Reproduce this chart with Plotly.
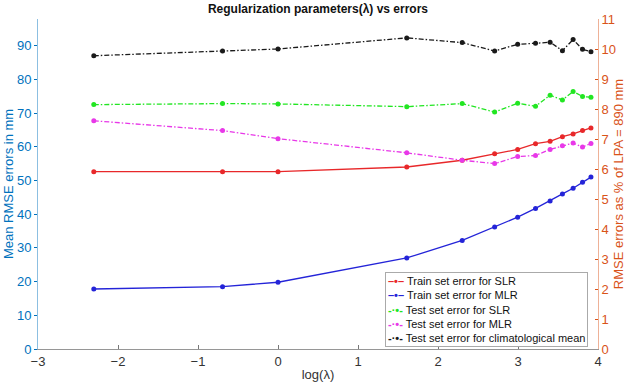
import numpy as np
import plotly.graph_objects as go

lambdas = [0.1, 0.5, 1, 5, 10, 15, 20, 25, 30, 35, 40, 45, 50]
train_slr = [52.6, 52.6, 52.6, 54.0, 56.0, 57.9, 59.2, 60.9, 61.6, 63.0, 63.8, 64.8, 65.6]
train_mlr = [17.8, 18.5, 19.8, 27.0, 32.2, 36.2, 39.1, 41.7, 43.9, 46.0, 47.7, 49.5, 51.0]
test_slr = [72.5, 72.8, 72.7, 71.9, 72.8, 70.3, 72.9, 72.0, 75.3, 73.9, 76.4, 74.9, 74.7]
test_mlr = [67.7, 64.8, 62.4, 58.2, 56.0, 55.0, 57.1, 57.4, 59.2, 60.3, 61.1, 59.9, 61.0]
test_clim = [87.0, 88.4, 89.0, 92.3, 90.9, 88.4, 90.4, 90.7, 91.0, 88.5, 91.8, 88.9, 88.2]

names = ["Train set error for SLR", "Train set error for MLR", "Test set error for SLR",
         "Test set error for MLR", "Test set error for climatological mean"]
colors = ["#e8282a", "#2424d8", "#22e622", "#e838e8", "#1a1a1a"]
dashes = ["solid", "solid", "5px,2px,1.5px,2px", "5px,2px,1.5px,2px", "5px,2px,1.5px,2px"]
samples = ["–•–", "–•–", "-·•-", "-·•-", "-·•-"]
series = [train_slr, train_mlr, test_slr, test_mlr, test_clim]

x = np.log(lambdas)
LPA = 890.0
left_max = 11 * LPA / 100.0

FONT = "Liberation Sans, Arial, Helvetica, sans-serif"
LEFT_C = "rgb(0,114,189)"
RIGHT_C = "rgb(217,83,25)"

fig = go.Figure()
for nm, c, d, s in zip(names, colors, dashes, series):
    fig.add_trace(go.Scatter(x=x, y=s, name=nm, mode="lines+markers",
                             line=dict(color=c, width=1.3, dash=d),
                             marker=dict(color=c, size=5), showlegend=False))
# invisible trace on the right axis to show it
fig.add_trace(go.Scatter(x=[x[0]], y=[0], yaxis="y2", showlegend=False,
                         mode="markers", marker=dict(opacity=0), hoverinfo="skip"))

legend_text = "<br>".join(
    f"<span style='color:{c}'><b>{smp}</b></span> {nm}" for nm, c, smp in zip(names, colors, samples)
)
fig.add_annotation(xref="paper", yref="paper", x=0.982, y=0.006, xanchor="right", yanchor="bottom",
                   text=legend_text, align="left", showarrow=False,
                   font=dict(size=11, color="#111", family=FONT),
                   bgcolor="white", bordercolor="rgb(170,170,170)", borderwidth=1, borderpad=2)

fig.update_layout(
    width=626, height=388,
    margin=dict(l=38, r=28, t=19, b=39),
    paper_bgcolor="white", plot_bgcolor="white",
    font=dict(family=FONT, size=13, color="#222"),
    title=dict(text="<b>Regularization parameters(λ) vs errors</b>", x=0.508, xanchor="center",
               y=0.978, yanchor="middle", font=dict(size=12, color="#111")),
    xaxis=dict(range=[-3, 4], dtick=1, tick0=-3, showgrid=False, zeroline=False,
               showline=True, linecolor="rgb(150,150,150)", linewidth=1,
               ticks="inside", ticklen=4, tickcolor="rgb(120,120,120)",
               tickfont=dict(size=13, color="#333"),
               title=dict(text="log(λ)", font=dict(size=13, color="#333"), standoff=2),
               automargin=False),
    yaxis=dict(range=[0, left_max], dtick=10, tick0=0, showgrid=False, zeroline=False,
               showline=True, linecolor="rgba(0,114,189,0.45)", linewidth=1,
               ticks="outside", ticklen=3, tickcolor=LEFT_C,
               tickfont=dict(size=13, color=LEFT_C),
               title=dict(text="Mean RMSE errors in mm", font=dict(size=13, color=LEFT_C), standoff=0),
               automargin=False),
    yaxis2=dict(range=[0, 11], dtick=1, tick0=0, overlaying="y", side="right",
                showgrid=False, zeroline=False,
                showline=True, linecolor="rgba(217,83,25,0.45)", linewidth=1,
                ticks="inside", ticklen=3, tickcolor=RIGHT_C,
                tickfont=dict(size=13, color=RIGHT_C),
                title=dict(text="RMSE errors as % of LPA = 890 mm", font=dict(size=13, color=RIGHT_C), standoff=2),
                automargin=False),
    showlegend=False,
)

fig.write_html("out.html", config={"displayModeBar": False},
               post_script="document.body.style.margin='0px';document.body.style.overflow='hidden';")
